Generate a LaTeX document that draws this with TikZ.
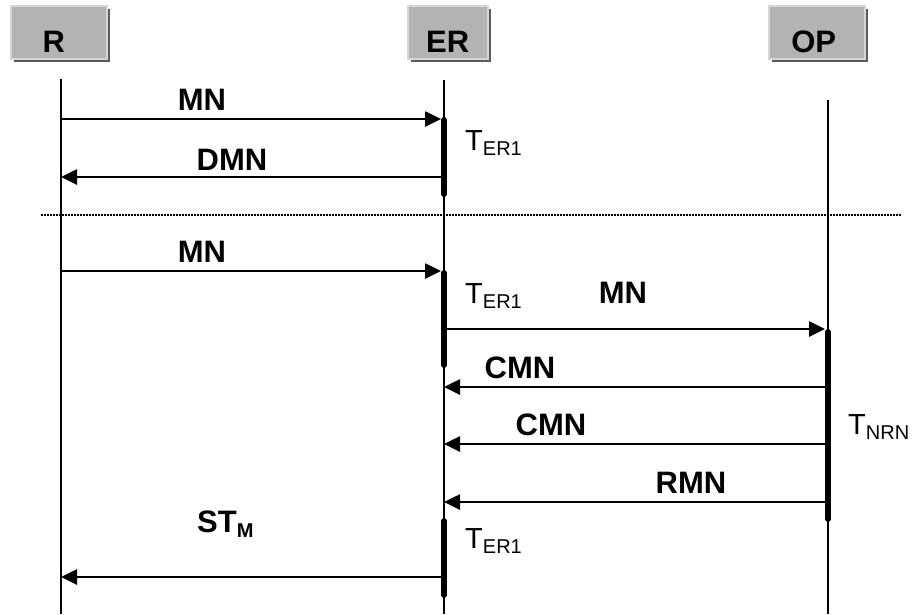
\documentclass[tikz,border=0pt]{standalone}
\usepackage{fontspec}
\setmainfont{Liberation Sans}
\usetikzlibrary{arrows.meta,shadows}
\definecolor{boxgray}{HTML}{B3B3B3}
\definecolor{boxlight}{HTML}{D6D6D6}
\definecolor{boxdark}{HTML}{5C5C5C}
\def\lowsub#1{\raisebox{-5pt}{\fontsize{20}{20}\selectfont #1}}

\begin{document}
\begin{tikzpicture}[x=1pt,y=-1pt,
  head/.style={rectangle,fill=boxgray,draw=boxlight,line width=1.5pt,
    inner xsep=0pt,inner ysep=0pt,text height=47pt,text depth=6pt,
    minimum height=53pt,font=\bfseries\fontsize{31}{36}\selectfont,
    general shadow={fill=boxdark,shadow xshift=3pt,shadow yshift=-3pt}},
  life/.style={line width=1.1pt},
  msg/.style={line width=2.6pt,-{Triangle[length=16pt,width=15pt]}},
  actbar/.style={line width=6pt,line cap=round},
  sep/.style={line width=2pt,dash pattern=on 1.5pt off 1.5pt},
  lbl/.style={anchor=base,inner sep=0pt,font=\bfseries\fontsize{31}{36}\selectfont},
  tlbl/.style={anchor=base west,inner sep=0pt,font=\fontsize{29}{34}\selectfont}]
\useasboundingbox (0,0) rectangle (913,614);
%heads
  \node[head,anchor=north west,minimum width=96pt] (r) at (10,5) {R\hspace*{10pt}};
  \node[head,anchor=north west,minimum width=80pt] (er) at (407,5) {ER};
  \node[head,anchor=north west,minimum width=96pt] (op) at (768,5) {OP\hspace*{6pt}};
%lifelines
  \foreach \n/\x/\y in {r/61/79, er/444/80, op/828/100}{
    \coordinate (\n-top) at (\x,\y);
    \coordinate (\n-bot) at (\x,614);
    \draw[life] (\n-top) -- (\n-bot);
  }
%first exchange
  \draw[actbar] (er-top |- 0,120) -- (er-top |- 0,194);
  \draw[msg,shorten >=3pt] (r-top |- 0,119) -- (er-top |- 0,119);
  \draw[msg] (er-top |- 0,177) -- (r-top |- 0,177);
  \node[lbl] (mn1) at (202,110) {MN};
  \node[lbl] (dmn) at (232,170) {DMN};
  \node[tlbl] (ter1) at (465,150) {T\lowsub{ER1}};
%separator
  \coordinate (sepl) at (41,215);
  \coordinate (sepr) at (902,215);
  \draw[sep] (sepl) -- (sepr);
%second exchange
  \draw[actbar] (er-top |- 0,273) -- (er-top |- 0,365);
  \draw[actbar] (op-top |- 0,332) -- (op-top |- 0,519);
  \draw[actbar] (er-top |- 0,521) -- (er-top |- 0,595);
  \draw[msg,shorten >=3pt] (r-top |- 0,271) -- (er-top |- 0,271);
  \draw[msg,shorten >=3pt] (er-top |- 0,329) -- (op-top |- 0,329);
  \draw[msg] (op-top |- 0,387) -- (er-top |- 0,387);
  \draw[msg] (op-top |- 0,444) -- (er-top |- 0,444);
  \draw[msg] (op-top |- 0,502) -- (er-top |- 0,502);
  \draw[msg] (er-top |- 0,577) -- (r-top |- 0,577);
  \node[lbl] (mn2) at (202,262) {MN};
  \node[lbl] (mn3) at (623,303) {MN};
  \node[lbl] (cmn1) at (520,378) {CMN};
  \node[lbl] (cmn2) at (551,435) {CMN};
  \node[lbl] (rmn) at (691,493) {RMN};
  \node[lbl,anchor=base west] (stm) at (197,532) {ST\lowsub{M}};
  \node[tlbl] (ter2) at (465,303) {T\lowsub{ER1}};
  \node[tlbl] (ter3) at (465,548) {T\lowsub{ER1}};
  \node[tlbl] (tnrn) at (848,434) {T\lowsub{NRN}};
\end{tikzpicture}
\end{document}
